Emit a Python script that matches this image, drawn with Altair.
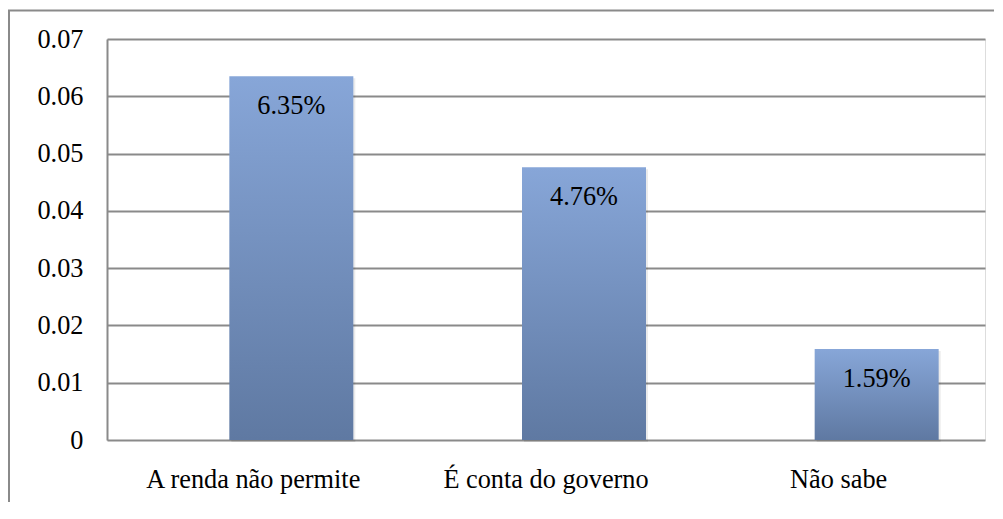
import altair as alt
import pandas as pd

categories = ["A renda não permite", "É conta do governo", "Não sabe"]
values = [0.0635, 0.0476, 0.0159]
labels = ["6.35%", "4.76%", "1.59%"]
y_ticks = [0, 0.01, 0.02, 0.03, 0.04, 0.05, 0.06, 0.07]

df = pd.DataFrame({"cat": categories, "val": values, "lab": labels})

W, H = 878, 401
FONT = "'Times New Roman', 'Liberation Serif', Tinos, 'DejaVu Serif', serif"
FS = 26.3

x = alt.X("cat:N", sort=categories, title=None,
          scale=alt.Scale(paddingInner=0, paddingOuter=0),
          axis=alt.Axis(labelAngle=0, labelFontSize=FS, labelFont=FONT, labelColor="black",
                        labelLimit=600, ticks=False, domain=False, labelPadding=26, grid=False))
y = alt.Y("val:Q", title=None,
          scale=alt.Scale(domain=[0, 0.07], nice=False),
          axis=alt.Axis(values=y_ticks, format="~g", labelFontSize=FS, labelFont=FONT,
                        labelColor="black", ticks=False, labelPadding=24,
                        domain=True, domainColor="#8a8a8a", domainWidth=2,
                        grid=True, gridColor="#8a8a8a", gridWidth=2))

base = alt.Chart(df)

border = base.mark_rect(fill=None, stroke="#8a8a8a", strokeWidth=2, clip=False).encode(
    x=alt.value(-98), x2=alt.value(W + 40), y=alt.value(-28.5), y2=alt.value(H + 120)
).transform_filter("datum.cat == 'Não sabe'")

shadow = base.mark_bar(size=124, xOffset=40, yOffset=2, color="#000000", opacity=0.08).encode(
    x=x, y=y
)

bars = base.mark_bar(
    size=124, xOffset=38,
    color=alt.Gradient(
        gradient="linear", x1=0, x2=0, y1=0, y2=1,
        stops=[alt.GradientStop(color="#87a6d8", offset=0),
               alt.GradientStop(color="#5f79a2", offset=1)]
    )
).encode(x=x, y=y)

text = base.mark_text(font=FONT, fontSize=FS, color="black", baseline="middle",
                      dx=38, dy=30).encode(x=x, y=y, text="lab:N")

chart = alt.layer(border, shadow, bars, text).properties(
    width=W, height=H,
    autosize=alt.AutoSizeParams(type="none"),
    padding={"left": 99, "top": 31, "right": 9, "bottom": 62},
).configure_view(stroke=None).configure(background="white", font=FONT)

chart.save("out.html", embed_options={"renderer": "svg", "actions": False})
